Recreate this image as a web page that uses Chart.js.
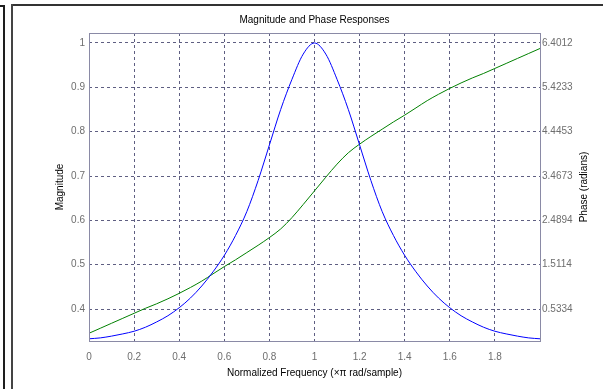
<!DOCTYPE html>
<html>
<head>
<meta charset="utf-8">
<script src="https://cdn.jsdelivr.net/npm/chart.js@4"></script>
<style>
  body { margin: 0; background: #fff; }
  #wrap { position: relative; width: 603px; height: 389px; overflow: hidden; }
  .ln { position: absolute; background: #1e1e1e; }
</style>
</head>
<body>
<div id="wrap">
  <canvas id="mychart" width="603" height="389"></canvas>
  <div class="ln" style="left:0;top:5px;width:5px;height:2px"></div>
  <div class="ln" style="left:3px;top:5px;width:2px;height:384px"></div>
  <div class="ln" style="left:11px;top:4px;width:592px;height:2px;background:#333"></div>
  <div class="ln" style="left:11px;top:4px;width:2px;height:385px;background:#444"></div>
</div>
<script>
// normalized frequency (x pi rad/sample)
const freq = [0, 0.05, 0.1, 0.15, 0.2, 0.25, 0.3, 0.35, 0.4, 0.45, 0.5, 0.55, 0.6, 0.65, 0.7, 0.75, 0.8, 0.85, 0.9, 0.95,
  1.0, 1.05, 1.1, 1.15, 1.2, 1.25, 1.3, 1.35, 1.4, 1.45, 1.5, 1.55, 1.6, 1.65, 1.7, 1.75, 1.8, 1.85, 1.9, 1.95, 2.0];
const magnitude = [0.333, 0.335, 0.339, 0.344, 0.350, 0.359, 0.371, 0.385, 0.403, 0.425, 0.452, 0.484, 0.521, 0.566, 0.620, 0.690, 0.770, 0.850, 0.918, 0.975,
  1.000, 0.975, 0.918, 0.850, 0.770, 0.690, 0.620, 0.566, 0.521, 0.484, 0.452, 0.425, 0.403, 0.385, 0.371, 0.359, 0.350, 0.344, 0.339, 0.335, 0.333];
const phase = [0.00, 0.11, 0.22, 0.33, 0.44, 0.55, 0.65, 0.76, 0.88, 1.01, 1.15, 1.31, 1.47, 1.62, 1.78, 1.94, 2.11, 2.30, 2.55, 2.84,
  3.14, 3.44, 3.73, 3.98, 4.17, 4.34, 4.50, 4.66, 4.81, 4.97, 5.13, 5.27, 5.40, 5.52, 5.63, 5.73, 5.84, 5.95, 6.06, 6.17, 6.28];

const xTicks = [0, 0.2, 0.4, 0.6, 0.8, 1, 1.2, 1.4, 1.6, 1.8];
const magTicks = [0.4, 0.5, 0.6, 0.7, 0.8, 0.9, 1];
const phaseTicks = [0.5334, 1.5114, 2.4894, 3.4673, 4.4453, 5.4233, 6.4012];

const magMin = 0.328, magMax = 1.0225;
// right axis lines up with left one: 0.4 -> 0.5334, 1 -> 6.4012
const k = (phaseTicks[6] - phaseTicks[0]) / (magTicks[6] - magTicks[0]);
const phMin = phaseTicks[0] + (magMin - magTicks[0]) * k;
const phMax = phaseTicks[0] + (magMax - magTicks[0]) * k;

const gridCol = '#5f5f82';
const tickCol = '#6e6e6e';
const fnt = 'Liberation Sans, Arial, sans-serif';

function pts(ys) {
    let out = [];
    for (let i = 0; i < freq.length; i++) out.push({ x: freq[i], y: ys[i] });
    return out;
}

const frame = {
    id: 'frame',
    afterDraw(chart) {
        const c = chart.ctx, a = chart.chartArea;
        c.save();
        c.strokeStyle = '#8a8aa6';
        c.lineWidth = 1;
        c.strokeRect(Math.round(a.left) + 0.5, Math.round(a.top) + 0.5, Math.round(a.right - a.left), Math.round(a.bottom - a.top));
        c.fillStyle = '#000';
        c.font = '10px ' + fnt;
        c.textAlign = 'center';
        c.textBaseline = 'middle';
        c.fillText('Magnitude and Phase Responses', (a.left + a.right) / 2, 20);
        // right axis title, reads bottom to top like the left one
        c.translate(584, (a.top + a.bottom) / 2);
        c.rotate(-Math.PI / 2);
        c.fillText('Phase (radians)', 0, 0);
        c.restore();
    }
};

const ctx = document.getElementById('mychart').getContext('2d');
let myChart = new Chart(ctx, {
    type: 'line',
    data: {
        datasets: [{
            label: 'Magnitude',
            data: pts(magnitude),
            borderColor: '#0000ff',
            borderWidth: 1,
            pointRadius: 0,
            cubicInterpolationMode: 'monotone',
            yAxisID: 'y'
        }, {
            label: 'Phase',
            data: pts(phase),
            borderColor: '#008000',
            borderWidth: 1,
            pointRadius: 0,
            cubicInterpolationMode: 'monotone',
            yAxisID: 'y2'
        }]
    },
    options: {
        responsive: false,
        animation: false,
        events: [],
        layout: { padding: { top: 33 } },
        plugins: {
            legend: { display: false },
            tooltip: { enabled: false },
            title: { display: false }
        },
        scales: {
            x: {
                type: 'linear',
                min: 0,
                max: 2,
                afterBuildTicks: s => { s.ticks = xTicks.map(v => ({ value: v })); },
                afterFit: s => { s.height = 48; },
                ticks: { color: tickCol, font: { family: fnt, size: 10 }, padding: 10, maxRotation: 0,
                    callback: v => String(v) },
                grid: { color: gridCol, drawTicks: false },
                border: { display: false, dash: [3, 3] },
                title: { display: true, text: 'Normalized Frequency (\u00d7\u03c0 rad/sample)', color: '#000',
                    font: { family: fnt, size: 10 }, padding: { top: 0, bottom: 10 } }
            },
            y: {
                type: 'linear',
                position: 'left',
                min: magMin,
                max: magMax,
                afterBuildTicks: s => { s.ticks = magTicks.map(v => ({ value: v })); },
                afterFit: s => { s.width = 89; },
                ticks: { color: tickCol, font: { family: fnt, size: 10 }, padding: 4,
                    callback: v => String(v) },
                grid: { color: gridCol, drawTicks: false },
                border: { display: false, dash: [3, 3] },
                title: { display: true, text: 'Magnitude', color: '#000',
                    font: { family: fnt, size: 10 }, padding: { top: 54 } }
            },
            y2: {
                type: 'linear',
                position: 'right',
                min: phMin,
                max: phMax,
                afterBuildTicks: s => { s.ticks = phaseTicks.map(v => ({ value: v })); },
                afterFit: s => { s.width = 63; },
                ticks: { color: tickCol, font: { family: fnt, size: 10 }, padding: 2,
                    callback: v => v.toFixed(4) },
                grid: { display: false, drawTicks: false },
                border: { display: false }
            }
        }
    },
    plugins: [frame]
});
</script>
</body>
</html>
